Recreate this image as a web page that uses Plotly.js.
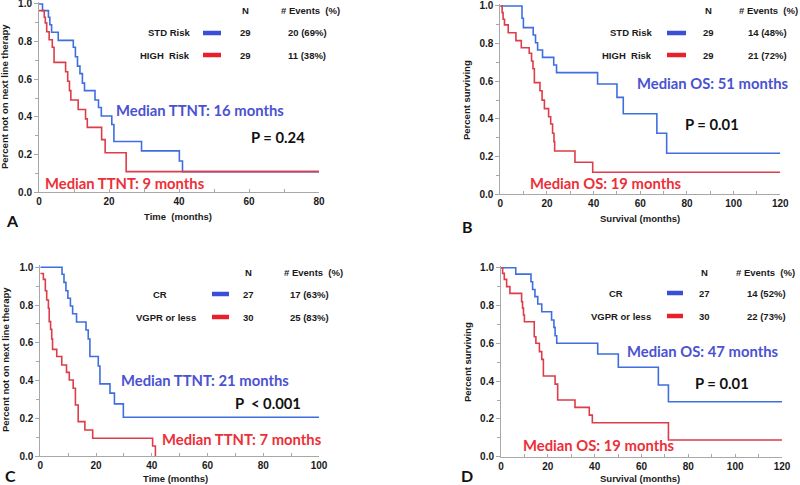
<!DOCTYPE html>
<html>
<head>
<meta charset="utf-8">
<script src="https://cdn.plot.ly/plotly-3.0.1.min.js"></script>
<style>
  html, body { margin: 0; padding: 0; background: #fff; }
  #chart { width: 800px; height: 485px; }
</style>
</head>
<body>
<div id="chart"></div>
<script>
// Panel A: time to next line therapy by risk group
const aStdT  = [0, 1, 2.7, 3.1, 3.6, 5.5, 9.8, 10.4, 11, 11.7, 12.4, 13, 16, 17, 17.8, 20.8, 21.4, 29.3, 40.1, 41, 80];
const aStdS  = [1, 0.965, 0.93, 0.89, 0.85, 0.807, 0.77, 0.72, 0.67, 0.63, 0.58, 0.54, 0.49, 0.45, 0.405, 0.36, 0.27, 0.22, 0.166, 0.11, 0.11];
const aHighT = [0, 1.5, 1.8, 2.2, 2.9, 3.8, 4.3, 7.6, 8.2, 8.7, 9.1, 11.2, 13.3, 13.8, 17.9, 18.9, 24.9, 80];
const aHighS = [0.965, 0.93, 0.9, 0.853, 0.81, 0.77, 0.69, 0.64, 0.59, 0.54, 0.49, 0.44, 0.39, 0.345, 0.28, 0.21, 0.11, 0.11];

// Panel B: overall survival by risk group
const bStdT  = [0, 9.3, 9.9, 14.1, 15.1, 16, 18.1, 22.9, 24.1, 41.7, 50, 52.7, 67.1, 71.3, 120];
const bStdS  = [1, 0.935, 0.885, 0.846, 0.805, 0.766, 0.727, 0.687, 0.646, 0.586, 0.515, 0.428, 0.324, 0.218, 0.218];
const bHighT = [0, 0.8, 1.2, 1.8, 3.4, 6.7, 9, 12.4, 13.4, 14, 14.6, 17, 17.9, 18.9, 20.7, 21.6, 22.4, 23, 23.3, 32, 39.6, 120];
const bHighS = [1, 0.965, 0.93, 0.9, 0.858, 0.816, 0.778, 0.749, 0.708, 0.667, 0.593, 0.55, 0.5, 0.455, 0.412, 0.373, 0.324, 0.28, 0.23, 0.17, 0.117, 0.117];

// Panel C: time to next line therapy by response
const cCrT   = [0, 7.8, 8.5, 9.2, 9.9, 10.8, 11.6, 13, 16.4, 17.2, 17.8, 20.8, 21.4, 25, 26.6, 29.8, 100];
const cCrS   = [1, 0.963, 0.92, 0.876, 0.836, 0.795, 0.754, 0.71, 0.668, 0.62, 0.527, 0.477, 0.382, 0.333, 0.276, 0.205, 0.205];
const cVgT   = [0, 1.1, 1.8, 2.3, 2.9, 3.2, 3.7, 4.1, 4.4, 5.9, 7.7, 9.4, 10.4, 11.8, 12.6, 13.6, 16, 18.8, 40.3, 41.3];
const cVgS   = [0.967, 0.936, 0.876, 0.827, 0.783, 0.712, 0.671, 0.62, 0.565, 0.527, 0.482, 0.443, 0.403, 0.359, 0.27, 0.182, 0.138, 0.094, 0.053, 0];

// Panel D: overall survival by response
const dCrT   = [0, 6.3, 12.8, 13.5, 14.5, 15.7, 17.4, 21.6, 22.6, 23.1, 23.8, 41.3, 50.1, 67.2, 71.5, 120];
const dCrS   = [1, 0.966, 0.926, 0.885, 0.847, 0.808, 0.767, 0.723, 0.684, 0.64, 0.6, 0.543, 0.473, 0.379, 0.291, 0.291];
const dVgT   = [0, 0.7, 1.4, 2.4, 3.8, 8.8, 9.2, 9.6, 10, 14.2, 14.9, 16.4, 17.4, 18.1, 23.1, 24.2, 31.6, 37.7, 39, 71.5, 120];
const dVgS   = [1, 0.97, 0.938, 0.9, 0.864, 0.82, 0.786, 0.75, 0.714, 0.635, 0.6, 0.556, 0.515, 0.427, 0.384, 0.3, 0.261, 0.22, 0.18, 0.088, 0.088];

// legend tables
const aGroups = ['STD Risk', 'HIGH  Risk'];
const aN      = ['29', '29'];
const aEvents = ['20 (69%)', '11 (38%)'];
const bGroups = ['STD Risk', 'HIGH  Risk'];
const bN      = ['29', '29'];
const bEvents = ['14 (48%)', '21 (72%)'];
const cGroups = ['CR', 'VGPR or less'];
const cN      = ['27', '30'];
const cEvents = ['17 (63%)', '25 (83%)'];
const dGroups = ['CR', 'VGPR or less'];
const dN      = ['27', '30'];
const dEvents = ['14 (52%)', '22 (73%)'];

const W = 800, H = 485;
const BLUE = '#3e6ee0', RED = '#dc3d48';
const TXT_BLUE = '#4a52d2', TXT_RED = '#ec2f38';
const YTOP = 1.01;

// pixel geometry of each plot area (l/r = x of 0 and max, t = y of 1.0, b = y of 0)
const panels = [
  {id: '',  l: 39,    r: 319,   t: 4,     b: 192.3, xmax: 80},
  {id: '2', l: 500.3, r: 780.3, t: 6,     b: 194.3, xmax: 120},
  {id: '3', l: 40.3,  r: 319,   t: 267.3, b: 456,   xmax: 100},
  {id: '4', l: 501,   r: 782,   t: 267.7, b: 456.7, xmax: 120}
];

function px(x) { return x / W; }
function py(y) { return 1 - y / H; }

function kmTrace(t, s, color, n) {
  return {
    x: t, y: s, type: 'scatter', mode: 'lines',
    line: {color: color, width: 1.6, shape: 'hv'},
    xaxis: 'x' + n, yaxis: 'y' + n, showlegend: false, hoverinfo: 'skip'
  };
}

const data = [
  kmTrace(aStdT, aStdS, BLUE, ''), kmTrace(aHighT, aHighS, RED, ''),
  kmTrace(bStdT, bStdS, BLUE, '2'), kmTrace(bHighT, bHighS, RED, '2'),
  kmTrace(cCrT, cCrS, BLUE, '3'), kmTrace(cVgT, cVgS, RED, '3'),
  kmTrace(dCrT, dCrS, BLUE, '4'), kmTrace(dVgT, dVgS, RED, '4')
];

const tickFont = {family: 'Liberation Sans, Arial, sans-serif', size: 10, color: '#1a1a1a', weight: 'bold'};
const layout = {
  width: W, height: H,
  margin: {l: 0, r: 0, t: 0, b: 0},
  paper_bgcolor: '#fff', plot_bgcolor: '#fff',
  showlegend: false,
  annotations: [], shapes: []
};

panels.forEach(p => {
  const ext = (p.b - p.t) * (YTOP - 1);
  layout['xaxis' + p.id] = {
    domain: [px(p.l), px(p.r)], range: [0, p.xmax],
    anchor: 'y' + p.id, dtick: 20, tick0: 0,
    showgrid: false, zeroline: false,
    showline: true, linecolor: '#a8a8a8', linewidth: 1,
    ticks: 'inside', ticklen: 3, tickcolor: '#a8a8a8',
    minor: {dtick: 10, ticks: 'inside', ticklen: 3, tickcolor: '#a8a8a8'},
    tickfont: tickFont, ticklabeloverflow: 'allow', fixedrange: true
  };
  layout['yaxis' + p.id] = {
    domain: [py(p.b), py(p.t - ext)], range: [0, YTOP],
    anchor: 'x' + p.id, tickvals: [0, 0.2, 0.4, 0.6, 0.8, 1.0], tickformat: '.1f',
    showgrid: false, zeroline: false,
    showline: true, linecolor: '#a8a8a8', linewidth: 1,
    ticks: 'outside', ticklen: 4, tickcolor: '#a8a8a8',
    minor: {tickvals: [0.1, 0.3, 0.5, 0.7, 0.9], ticks: 'outside', ticklen: 3, tickcolor: '#a8a8a8'},
    tickfont: tickFont, ticklabeloverflow: 'allow', fixedrange: true
  };
});

const smallFont = {family: 'Liberation Sans, Arial, sans-serif', size: 9.5, color: '#1a1a1a', weight: 'bold'};
const bigFont = (c) => ({family: 'Lato, Open Sans, sans-serif', size: 14.8, color: c, weight: 'bold'});

function note(x, y, text, font, opts) {
  layout.annotations.push(Object.assign({
    xref: 'paper', yref: 'paper', x: px(x), y: py(y), text: text,
    showarrow: false, font: font, xanchor: 'center', yanchor: 'middle'
  }, opts || {}));
}

function legendTable(groups, ns, events, pos) {
  note(pos.nx, pos.hy, 'N', smallFont);
  note(pos.ex, pos.hy, '# Events  (%)', smallFont);
  groups.forEach((g, i) => {
    const y = pos.rows[i];
    if (pos.gAlign === 'right') note(pos.gx, y, g, smallFont, {xanchor: 'right'});
    else note(pos.gcx[i], y, g, smallFont);
    layout.shapes.push({
      type: 'line', xref: 'paper', yref: 'paper',
      x0: px(pos.l0), x1: px(pos.l1), y0: py(y), y1: py(y),
      line: {color: i === 0 ? '#3a4ed8' : '#e8202c', width: 4.5}
    });
    note(pos.nx, y, ns[i], smallFont);
    note(pos.ex2 || pos.ex, y, events[i], smallFont);
  });
}

legendTable(aGroups, aN, aEvents, {nx: 245, ex: 310, ex2: 307, hy: 10, rows: [33, 55], gAlign: 'right', gx: 192, l0: 203, l1: 221});
legendTable(bGroups, bN, bEvents, {nx: 708, ex: 768, ex2: 767, hy: 10, rows: [33, 55], gAlign: 'right', gx: 654, l0: 667, l1: 686});
legendTable(cGroups, cN, cEvents, {nx: 248, ex: 313, ex2: 309, hy: 272, rows: [294, 317], gAlign: 'center', gcx: [160, 166], l0: 212, l1: 229});
legendTable(dGroups, dN, dEvents, {nx: 704, ex: 765, ex2: 766, hy: 272, rows: [293, 316], gAlign: 'center', gcx: [616, 621], l0: 667, l1: 683});

// median / p-value labels
note(200, 110, 'Median TTNT: 16 months', bigFont(TXT_BLUE));
note(278, 137, 'P = 0.24', bigFont('#111'));
note(125, 183, 'Median TTNT: 9 months', bigFont(TXT_RED));

note(712, 83, 'Median OS: 51 months', bigFont(TXT_BLUE));
note(712, 124, 'P = 0.01', bigFont('#111'));
note(605, 183, 'Median OS: 19 months', bigFont(TXT_RED));

note(205, 380, 'Median TTNT: 21 months', bigFont(TXT_BLUE));
note(268, 403, 'P  &lt; 0.001', bigFont('#111'));
note(242, 439, 'Median TTNT: 7 months', bigFont(TXT_RED));

note(702, 351, 'Median OS: 47 months', bigFont(TXT_BLUE));
note(722, 383, 'P = 0.01', bigFont('#111'));
note(598, 445, 'Median OS: 19 months', bigFont(TXT_RED));

// axis titles
note(178, 217, 'Time  (months)', smallFont);
note(640, 219, 'Survival (months)', smallFont);
note(175, 478, 'Time (months)', smallFont);
note(640, 478, 'Survival (months)', smallFont);
note(5, 97, 'Percent not on next line therapy', smallFont, {textangle: -90});
note(467, 100, 'Percent surviving', smallFont, {textangle: -90});
note(5, 360, 'Percent not on next line therapy', smallFont, {textangle: -90});
note(467, 362, 'Percent surviving', smallFont, {textangle: -90});

// panel letters
const letterFont = {family: 'Lato, Open Sans, sans-serif', size: 16, color: '#111', weight: 'bold'};
note(12, 221, 'A', letterFont);
note(467, 226, 'B', letterFont);
note(10, 475, 'C', letterFont);
note(467, 475, 'D', letterFont);

Plotly.newPlot('chart', data, layout, {staticPlot: true, displayModeBar: false});
</script>
</body>
</html>
